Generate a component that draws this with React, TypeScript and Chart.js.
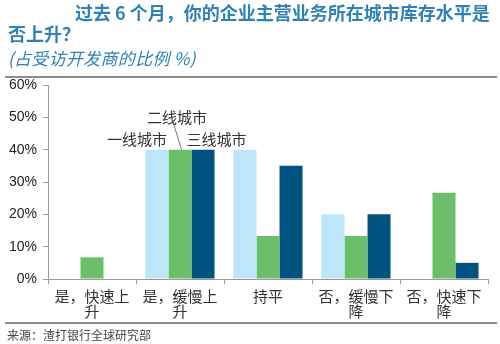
import React, { useEffect, useRef } from "react";
import { Chart, registerables } from "chart.js";

Chart.register(...registerables);

const categories: string[][] = [
  ["是，快速上", "升"],
  ["是，缓慢上", "升"],
  ["持平"],
  ["否，缓慢下", "降"],
  ["否，快速下", "降"],
];
const seriesNames = ["一线城市", "二线城市", "三线城市"];
const tier1 = [0, 40, 40, 20, 0];
const tier2 = [6.7, 40, 13.3, 13.3, 26.7];
const tier3 = [0, 40, 35, 20, 5];
const yMax = 60;
const yStep = 10;

const colors = ["#BEE6FB", "#6BBF69", "#00527F"];
const CJK = '"Noto Sans CJK SC", sans-serif';

const annotationPlugin = {
  id: "seriesLabels",
  afterDatasetsDraw(chart: any) {
    const ctx = chart.ctx;
    const idx = 1;
    const offsets = [
      { dx: -20, dy: -10 },
      { dx: -3, dy: -32 },
      { dx: 13.5, dy: -10 },
    ];
    ctx.save();
    ctx.font = `15px ${CJK}`;
    ctx.fillStyle = "#333";
    ctx.textAlign = "center";
    ctx.textBaseline = "middle";
    seriesNames.forEach((name, i) => {
      const el = chart.getDatasetMeta(i).data[idx];
      if (!el) return;
      const o = offsets[i];
      ctx.fillText(name, el.x + o.dx, el.y + o.dy);
      if (i === 1) {
        ctx.strokeStyle = "#555";
        ctx.lineWidth = 0.8;
        ctx.beginPath();
        ctx.moveTo(el.x - 6.5, el.y - 26);
        ctx.lineTo(el.x + 1.5, el.y);
        ctx.stroke();
      }
    });
    ctx.restore();
  },
};

export default function App() {
  const ref = useRef<HTMLCanvasElement | null>(null);
  useEffect(() => {
    if (!ref.current) return;
    const chart = new Chart(ref.current, {
      type: "bar",
      data: {
        labels: categories,
        datasets: [tier1, tier2, tier3].map((d, i) => ({
          label: seriesNames[i],
          data: d,
          backgroundColor: colors[i],
          borderWidth: 0,
          categoryPercentage: 0.785,
          barPercentage: 1,
        })),
      },
      options: {
        responsive: false,
        animation: false,
        layout: { padding: { top: 85, right: 12, bottom: 20, left: 0 } },
        plugins: {
          legend: { display: false },
          tooltip: { enabled: false },
        },
        scales: {
          x: {
            grid: {
              display: true,
              drawOnChartArea: false,
              drawTicks: true,
              tickLength: 5,
              color: "#999",
            },
            border: { color: "#999", width: 1 },
            ticks: {
              font: { family: CJK, size: 15, lineHeight: 0.97 },
              color: "#333",
              padding: 5,
              maxRotation: 0,
              autoSkip: false,
            },
            afterFit(scale: any) {
              scale.height = 45;
            },
          },
          y: {
            min: 0,
            max: yMax,
            grid: {
              display: true,
              drawOnChartArea: false,
              drawTicks: true,
              tickLength: 5,
              color: "#999",
            },
            border: { color: "#999", width: 1 },
            ticks: {
              stepSize: yStep,
              font: { family: '"Liberation Sans", Arial, sans-serif', size: 14 },
              color: "#222",
              padding: 6,
              callback: (v: any) => `${v}%`,
            },
            afterFit(scale: any) {
              scale.width = 48;
            },
          },
        },
      },
      plugins: [annotationPlugin],
    });
    return () => chart.destroy();
  }, []);

  return (
    <div
      style={{
        position: "fixed",
        left: 0,
        top: 0,
        width: 500,
        height: 344,
        background: "#fff",
        overflow: "hidden",
      }}
    >
      <canvas
        ref={ref}
        width={500}
        height={344}
        style={{ position: "absolute", left: 0, top: 0, width: 500, height: 344 }}
      />
      <div
        style={{
          position: "absolute",
          left: 75,
          top: 1,
          fontFamily: CJK,
          fontWeight: 700,
          fontSize: 18,
          lineHeight: "22px",
          color: "#2E82B5",
          whiteSpace: "nowrap",
        }}
      >
        过去 6 个月，你的企业主营业务所在城市库存水平是
      </div>
      <div
        style={{
          position: "absolute",
          left: 8,
          top: 22,
          fontFamily: CJK,
          fontWeight: 700,
          fontSize: 18,
          lineHeight: "22px",
          color: "#2E82B5",
          whiteSpace: "nowrap",
        }}
      >
        否上升？
      </div>
      <div
        style={{
          position: "absolute",
          left: 8,
          top: 47,
          fontFamily: CJK,
          fontStyle: "italic",
          fontSize: 17,
          letterSpacing: 0.3,
          lineHeight: "22px",
          color: "#2E82B5",
          whiteSpace: "nowrap",
        }}
      >
        (占受访开发商的比例 %)
      </div>
      <div
        style={{
          position: "absolute",
          left: 5,
          top: 76,
          width: 492,
          height: 2,
          background: "#8C8C8C",
        }}
      />
      <div
        style={{
          position: "absolute",
          left: 5,
          top: 322,
          width: 492,
          height: 2,
          background: "#8C8C8C",
        }}
      />
      <div
        style={{
          position: "absolute",
          left: 7,
          top: 327,
          fontFamily: CJK,
          fontSize: 12,
          lineHeight: "16px",
          color: "#444",
          whiteSpace: "nowrap",
        }}
      >
        来源：渣打银行全球研究部
      </div>
    </div>
  );
}
